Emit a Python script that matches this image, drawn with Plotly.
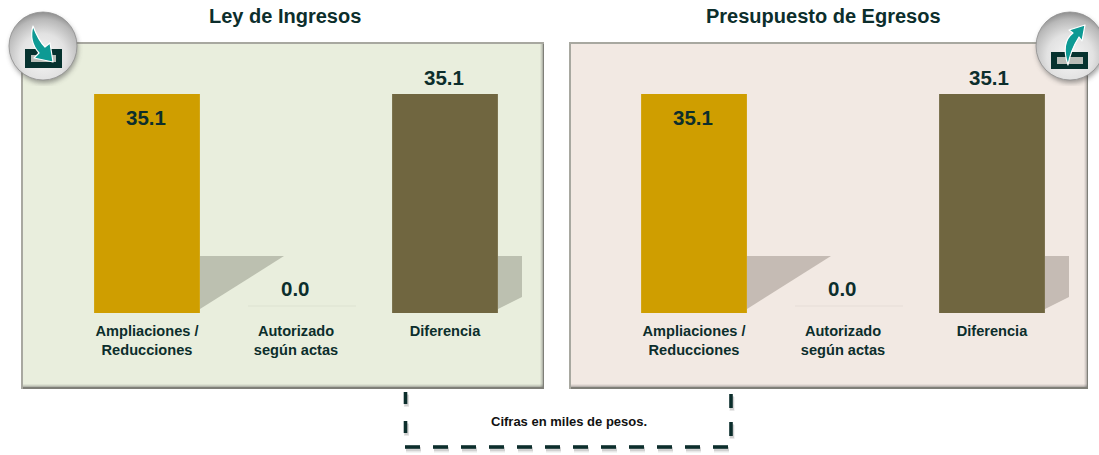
import base64
import plotly.graph_objects as go

W, H = 1099, 455
categories = ["Ampliaciones /<br>Reducciones", "Autorizado<br>según actas", "Diferencia"]
ingresos = [35.1, 0.0, 35.1]
egresos = [35.1, 0.0, 35.1]
bar_colors = ["#cf9e00", "#cf9e00", "#706640"]
titles = ["Ley de Ingresos", "Presupuesto de Egresos"]
note = "Cifras en miles de pesos."
DARK = "#0c2e2c"
FONT = "Liberation Sans, Arial, sans-serif"


def px(x):
    return x / W


def py(y):
    return 1 - y / H


def rect(x0, y0, x1, y1, **kw):
    return dict(type="rect", xref="paper", yref="paper", x0=px(x0), x1=px(x1),
                y0=py(y1), y1=py(y0), layer="below", **kw)


def poly(points, color, opacity=1.0):
    path = "M " + " L ".join(f"{px(x):.5f},{py(y):.5f}" for x, y in points) + " Z"
    return dict(type="path", xref="paper", yref="paper", path=path, fillcolor=color,
                line=dict(width=0), layer="below", opacity=opacity)


def line(x0, y0, x1, y1, color=DARK, width=3.6, opacity=1.0):
    return dict(type="line", xref="paper", yref="paper", x0=px(x0), x1=px(x1), y0=py(y0), y1=py(y1),
                line=dict(color=color, width=width), layer="above", opacity=opacity)


def dash(x0, y0, x1, y1):
    return [line(x0 + 1, y0 + 3, x1 + 1, y1 + 3, "#777777", 5, 0.16),
            line(x0 + 1, y0 + 2, x1 + 1, y1 + 2, "#777777", 4, 0.2),
            line(x0, y0, x1, y1)]


fig = go.Figure()
fig.add_trace(go.Bar(x=categories, y=ingresos, marker=dict(color=bar_colors, line=dict(width=0)),
                     width=0.71, xaxis="x", yaxis="y", hoverinfo="skip", showlegend=False))
fig.add_trace(go.Bar(x=categories, y=egresos, marker=dict(color=bar_colors, line=dict(width=0)),
                     width=0.71, xaxis="x2", yaxis="y2", hoverinfo="skip", showlegend=False))

ymax = 35.1 * (313 - 44) / (313 - 94)
dom_y = [py(313), py(44)]
tickfont = dict(family=FONT, size=14.6, color=DARK)
for ax, anchor, dom in (("xaxis", "y", [px(72.5), px(519.5)]), ("xaxis2", "y2", [px(619.5), px(1066.5)])):
    fig.layout[ax] = dict(domain=dom, anchor=anchor, type="category", categoryorder="array",
                          categoryarray=categories, tickfont=tickfont, showgrid=False, zeroline=False,
                          showline=False, ticks="outside", ticklen=4, tickcolor="rgba(0,0,0,0)",
                          range=[-0.5, 2.5], fixedrange=True, tickangle=0)
for ay, anchor in (("yaxis", "x"), ("yaxis2", "x2")):
    fig.layout[ay] = dict(domain=dom_y, anchor=anchor, range=[0, ymax], visible=False, fixedrange=True)

shapes = []
panels = [(22, 43, 544, 388, "#e9eedd", "#bcc0b0"), (570, 43, 1088, 388, "#f2e9e3", "#c5bbb4")]
for x0, y0, x1, y1, fill, shade in panels:
    shapes.append(rect(x0 - 1, y0 - 1, x1, y1 + 1, fillcolor="#a8a8a0", line=dict(width=0)))
    shapes.append(rect(x0 + 1, y0 + 1, x1, y1 + 1, fillcolor="#7f7f78", line=dict(width=0)))
    shapes.append(rect(x0 + 1, y0 + 1, x1 - 1, y1 - 1, fillcolor=fill, line=dict(width=0)))
    for k, op in ((3, 0.08), (2, 0.12), (1, 0.2)):
        shapes.append(rect(x0 + 1, y1 - 1 - k, x1 - 1, y1 - 1, fillcolor="#555555", opacity=op, line=dict(width=0)))
        shapes.append(rect(x1 - 1 - k, y0 + 1, x1 - 1, y1 - 1, fillcolor="#555555", opacity=op, line=dict(width=0)))
    dx = 547 if x0 > 22 else 0
    shapes.append(poly([(200 + dx, 256), (284 + dx, 256), (200 + dx, 309)], shade))
    shapes.append(poly([(498 + dx, 256), (522 + dx, 256), (522 + dx, 297), (498 + dx, 309)], shade))
    shapes.append(rect(248 + dx, 305, 356 + dx, 307, fillcolor=shade, opacity=0.12, line=dict(width=0)))

# dashed bracket around the note
for y0, y1 in ((392, 404), (421, 433)):
    shapes += dash(405.5, y0, 405.5, y1)
for y0, y1 in ((394, 408), (422, 436)):
    shapes += dash(731, y0, 731, y1)
for i in range(12):
    x0 = 405 + 28 * i
    shapes += dash(x0, 447, x0 + 15, 447)
fig.update_layout(shapes=shapes)


def icon(cx, cy, arrow, tray, hole):
    ox, oy = cx - 40, cy - 40
    tx, ty, tw, th = tray
    hx, hy, hw, hh = hole
    svg = f'''<svg xmlns="http://www.w3.org/2000/svg" width="240" height="240" viewBox="{ox} {oy} 80 80">
<defs><radialGradient id="g" cx="0.5" cy="0.66" r="0.68">
<stop offset="0" stop-color="#f6f6f6"/><stop offset="0.5" stop-color="#e2e2e2"/>
<stop offset="0.82" stop-color="#b8b8b8"/><stop offset="1" stop-color="#868686"/></radialGradient>
<filter id="b"><feGaussianBlur stdDeviation="2.4"/></filter></defs>
<circle cx="{cx+1}" cy="{cy+3}" r="34" fill="#444" opacity="0.5" filter="url(#b)"/>
<circle cx="{cx}" cy="{cy}" r="34" fill="url(#g)" stroke="#8f8f8f" stroke-width="0.8"/>
<rect x="{tx}" y="{ty}" width="{tw}" height="{th}" fill="#06322f"/>
<rect x="{hx}" y="{hy}" width="{hw}" height="{hh}" fill="#b9bdb8"/>
<path d="{arrow}" fill="#0e9a94" stroke="#fff" stroke-width="1.2" stroke-linejoin="round"/>
</svg>'''
    uri = "data:image/svg+xml;base64," + base64.b64encode(svg.encode()).decode()
    return dict(source=uri, xref="paper", yref="paper", x=px(ox), y=py(oy), sizex=px(80), sizey=80 / H,
                xanchor="left", yanchor="top", sizing="stretch", layer="above")


fig.update_layout(images=[
    icon(43, 46, "M33,26 C36,34 39,41 45,47 L50,43 L53,62 L34,58 L39,53 C32,45 30,36 33,26 Z",
         (25, 49, 37, 19), (31, 55, 25, 7)),
    icon(1070, 46, "M1068,65 C1063,50 1065,39 1073,33 L1069,30 L1085,25 L1082,41 L1079,37 C1074,45 1070,53 1068,65 Z",
         (1051, 52, 37, 17), (1057, 57, 26, 7)),
])

annotations = []
value_shift = [-23, 25, 17]
xshifts = ([-1, -1, -1], [-1, -1, -3])
for (xa, ya, vals), xs in zip((("x", "y", ingresos), ("x2", "y2", egresos)), xshifts):
    for c, v, s, sx in zip(categories, vals, value_shift, xs):
        annotations.append(dict(x=c, y=v, xref=xa, yref=ya, text=f"<b>{v:.1f}</b>", showarrow=False,
                                yshift=s, xshift=sx, xanchor="center", yanchor="middle",
                                font=dict(family=FONT, size=20.5, color=DARK)))
for t, x in zip(titles, (285, 823)):
    annotations.append(dict(x=px(x), y=py(16), xref="paper", yref="paper", text=f"<b>{t}</b>", showarrow=False,
                            xanchor="center", yanchor="middle",
                            font=dict(family=FONT, size=20, color=DARK)))
annotations.append(dict(x=px(569), y=py(421), xref="paper", yref="paper", text=f"<b>{note}</b>", showarrow=False,
                        xanchor="center", yanchor="middle",
                        font=dict(family=FONT, size=13, color="#111")))
fig.update_layout(annotations=annotations, width=W, height=H, autosize=False,
                  margin=dict(l=0, r=0, t=0, b=0), paper_bgcolor="#ffffff", plot_bgcolor="rgba(0,0,0,0)",
                  font=dict(family=FONT), bargap=0.29)
fig.update_xaxes(tickprefix="<b>", ticksuffix="</b>")
fig.write_html("out.html", config=dict(displayModeBar=False),
               post_script="document.body.style.margin='0';document.body.style.overflow='hidden';")
